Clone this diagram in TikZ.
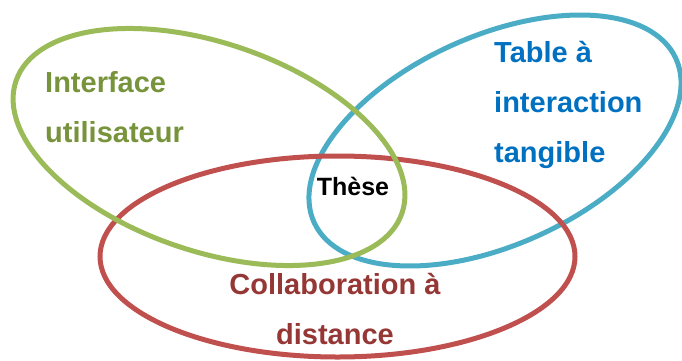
\documentclass[tikz,border=0pt]{standalone}
\usepackage{fontspec}
\setmainfont{Liberation Sans}
\definecolor{vgreen}{HTML}{9BBB59}
\definecolor{vblue}{HTML}{4BACC6}
\definecolor{vred}{HTML}{C0504D}
\definecolor{tgreen}{HTML}{77933C}
\definecolor{tblue}{HTML}{0070C0}
\definecolor{tred}{HTML}{953735}
\begin{document}
\begin{tikzpicture}[x=1pt,y=1pt,
  ring/.style={line width=5pt},
  lbl/.style={inner sep=0pt,font=\fontsize{29}{50}\selectfont\bfseries},
]
\useasboundingbox (0,0) rectangle (682,360);
% blue (bottom layer)
\draw[ring,vblue,rotate around={24.3:(495,219.5)}] (495,219.5) ellipse [x radius=198.6, y radius=104.5];
% red
\draw[ring,vred] (337.5,103.5) ellipse [x radius=237.5, y radius=100.5];
% green (top layer)
\draw[ring,vgreen,rotate around={-18.9:(209,213)}] (209,213) ellipse [x radius=204, y radius=104];
\node[lbl,tgreen,align=left,anchor=base west] (ui) at (45,218) {Interface\\utilisateur};
\node[lbl,tblue,align=left,anchor=base west] (tab) at (494,198) {Table à\\interaction\\tangible};
\node[lbl,tred,align=center,anchor=base] (col) at (335,16) {Collaboration à\\distance};
\node[inner sep=0pt,font=\fontsize{25}{30}\selectfont\bfseries,anchor=base] (th) at (353,165) {Thèse};
\end{tikzpicture}
\end{document}
